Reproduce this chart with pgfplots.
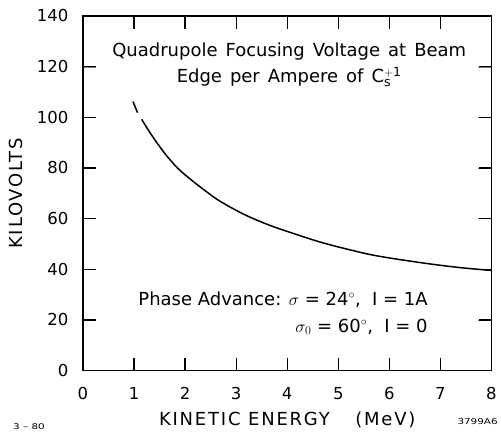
\documentclass[border=0pt]{standalone}
\usepackage{pgfplots}
\pgfplotsset{compat=1.18}
\usepackage{fontspec}
\setmainfont{DejaVu Sans}
\newfontfamily\titlefont[WordSpace=1.4]{DejaVu Sans}
\newfontfamily\labfont[LetterSpace=10]{DejaVu Sans}
\begin{document}
\begin{tikzpicture}
\begin{axis}[
  scale only axis,
  width=409pt, height=355pt,
  xmin=0, xmax=8, ymin=0, ymax=140,
  xtick={0,1,2,3,4,5,6,7,8}, ytick={0,20,40,60,80,100,120,140},
  xticklabel pos=lower, yticklabel pos=left,
  tick align=inside,
  major tick length=13pt,
  axis line style={line width=1.4pt},
  unbounded coords=jump,
  /pgf/number format/assume math mode=true,
  tick label style={font=\fontsize{16.5}{20}\selectfont},
  xticklabel style={yshift=-13pt},
  yticklabel style={xshift=-11pt},
  xlabel={KINETIC ENERGY\quad\ (MeV)},
  ylabel={KILOVOLTS},
  label style={font=\labfont\fontsize{18}{20}\selectfont},
  xlabel style={at={(axis description cs:0.5,-0.138)}, anchor=center},
  ylabel style={at={(axis description cs:-0.164,0.5)}, anchor=center},
  clip=false,
]
% tick marks on all four sides
\addplot[black, line width=1.2pt] coordinates {
(1,0) (1,5.1) (nan,nan) (2,0) (2,5.1) (nan,nan) (3,0) (3,5.1) (nan,nan)
(4,0) (4,5.1) (nan,nan) (5,0) (5,5.1) (nan,nan) (6,0) (6,5.1) (nan,nan) (7,0) (7,5.1)};
\addplot[black, line width=1.2pt] coordinates {
(1,140) (1,134.9) (nan,nan) (2,140) (2,134.9) (nan,nan) (3,140) (3,134.9) (nan,nan)
(4,140) (4,134.9) (nan,nan) (5,140) (5,134.9) (nan,nan) (6,140) (6,134.9) (nan,nan) (7,140) (7,134.9)};
\addplot[black, line width=1.2pt] coordinates {
(0,20) (0.25,20) (nan,nan) (0,40) (0.25,40) (nan,nan) (0,60) (0.25,60) (nan,nan)
(0,80) (0.25,80) (nan,nan) (0,100) (0.25,100) (nan,nan) (0,120) (0.25,120)};
\addplot[black, line width=1.2pt] coordinates {
(8,20) (7.75,20) (nan,nan) (8,40) (7.75,40) (nan,nan) (8,60) (7.75,60) (nan,nan)
(8,80) (7.75,80) (nan,nan) (8,100) (7.75,100) (nan,nan) (8,120) (7.75,120)};
% curve
\addplot[black, line width=1.5pt] coordinates {(0.98,106.2) (1.07,101.8)};
\addplot[black, line width=1.5pt, smooth] coordinates {
(1.15,99.2) (1.34,93.1) (1.60,85.8) (1.86,79.8) (2.12,75.3) (2.38,71.2)
(2.68,66.9) (3.16,61.6) (3.65,57.4) (4.14,54.0) (4.6,51.0) (5.02,48.7)
(5.6,45.9) (6.05,44.3) (6.72,42.3) (7.36,40.7) (8,39.5)};
\node[align=center, font=\titlefont\fontsize{18}{26}\selectfont] at (axis cs:4.04,120.7)
  {Quadrupole Focusing Voltage at Beam\\Edge per Ampere of C$_{\mathrm{s}}^{+\mathrm{1}}$};
\node[align=right, anchor=east, font=\fontsize{18}{27}\selectfont] at (axis cs:6.82,22.7)
  {Phase Advance: $\sigma$ = 24$^\circ$,\ \ I = 1A\\$\sigma_0$ = 60$^\circ$,\ \ I = 0};
\node[font=\fontsize{8}{9}\selectfont] at (axis description cs:-0.132,-0.158) {\scalebox{1.3}[1]{3 -- 80}};
\node[font=\fontsize{8}{9}\selectfont] at (axis description cs:0.966,-0.144) {\scalebox{1.3}[1]{3799A6}};
\path (axis description cs:-0.203,-0.175) (axis description cs:1.022,1.045);
\end{axis}
\end{tikzpicture}
\end{document}
